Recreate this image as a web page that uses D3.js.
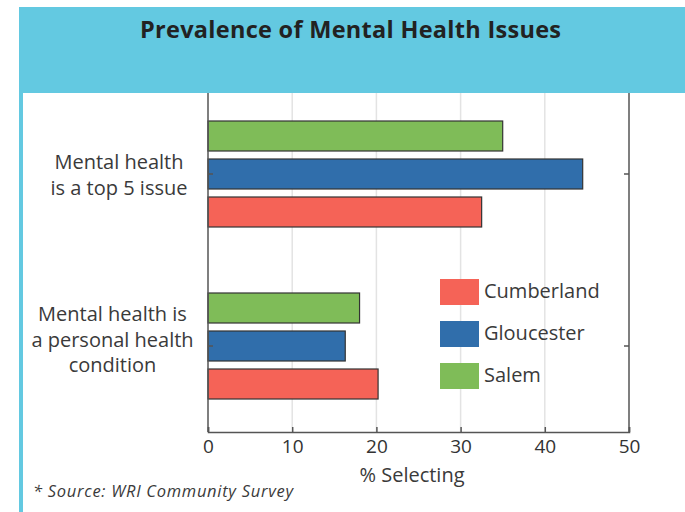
<!DOCTYPE html>
<html><head><meta charset="utf-8">
<script src="https://cdn.jsdelivr.net/npm/d3@7"></script>
<style>body{margin:0;background:#fff;} text{font-family:"Open Sans",Lato,sans-serif;}</style>
</head><body>
<svg id="c" width="685" height="512"></svg>
<script>
const categories = [["Mental health","is a top 5 issue"],["Mental health is","a personal health","condition"]];
const categoryKeys = ["top5","personal"];
const seriesNames = ["Salem","Gloucester","Cumberland"];
const salem = [35, 18];
const gloucester = [44.5, 16.3];
const cumberland = [32.5, 20.2];
const legendOrder = ["Cumberland","Gloucester","Salem"];
const xTicks = [0,10,20,30,40,50];
const colors = {Salem:"#7fbc58", Gloucester:"#306eab", Cumberland:"#f56357"};
const valuesBySeries = {Salem:salem, Gloucester:gloucester, Cumberland:cumberland};

const svg = d3.select("#c");
const L=208, R=629, T=88, B=432;
const x = d3.scaleLinear().domain([0,50]).range([L,R]);
const y = d3.scaleBand().domain(categoryKeys).range([T,B]);
const yi = d3.scaleBand().domain(seriesNames).range([-53,53]).paddingInner(8/38);
const FONT = "'Open Sans',Lato,sans-serif";

// grid
svg.append("g").selectAll("line").data(xTicks.slice(1,-1)).join("line")
  .attr("x1",d=>x(d)).attr("x2",d=>x(d)).attr("y1",T).attr("y2",B)
  .attr("stroke","#e3e3e3").attr("stroke-width",1.5);

// bars
categoryKeys.forEach((k,i)=>{
  const cy = y(k)+y.bandwidth()/2;
  seriesNames.forEach(s=>{
    svg.append("rect").attr("x",x(0)).attr("y",cy+yi(s))
      .attr("width",x(valuesBySeries[s][i])-x(0)).attr("height",yi.bandwidth())
      .attr("fill",colors[s]).attr("stroke","#333").attr("stroke-width",1.2);
  });
});

// frame
svg.append("line").attr("x1",L).attr("x2",L).attr("y1",T).attr("y2",B).attr("stroke","#555").attr("stroke-width",1.5);
svg.append("line").attr("x1",R).attr("x2",R).attr("y1",T).attr("y2",B).attr("stroke","#555").attr("stroke-width",1.5);
// bottom axis
const xa = svg.append("g").attr("transform",`translate(0,${B})`)
  .call(d3.axisBottom(x).tickValues(xTicks).tickSize(-5).tickPadding(8));
xa.select(".domain").attr("stroke","#555").attr("stroke-width",1.5);
xa.selectAll(".tick line").attr("stroke","#555").attr("stroke-width",1.5);
xa.selectAll("text").attr("font-size",19).attr("fill","#333").attr("font-family",FONT);
// y ticks inward
categoryKeys.forEach(k=>{
  const cy=y(k)+y.bandwidth()/2;
  svg.append("line").attr("x1",L).attr("x2",L+5).attr("y1",cy).attr("y2",cy).attr("stroke","#555").attr("stroke-width",1.5);
  svg.append("line").attr("x1",R-5).attr("x2",R).attr("y1",cy).attr("y2",cy).attr("stroke","#555").attr("stroke-width",1.5);
});

// category labels
const labelX=[119,112.5];
const firstBaseline=[-5,-25];
categories.forEach((lines,i)=>{
  const cy=y(categoryKeys[i])+y.bandwidth()/2;
  const lh=25.5;
  const t=svg.append("text").attr("text-anchor","middle").attr("font-size",20).attr("fill","#3a3a3a");
  lines.forEach((ln,j)=>{
    t.append("tspan").attr("x",labelX[i]).attr("y",cy+firstBaseline[i]+j*lh).text(ln);
  });
});

// legend
legendOrder.forEach((s,i)=>{
  const ly=279+i*42;
  svg.append("rect").attr("x",440).attr("y",ly).attr("width",39).attr("height",26).attr("fill",colors[s]);
  svg.append("text").attr("x",484).attr("y",ly+19).attr("font-size",20).attr("fill","#3a3a3a").text(s);
});

// header
svg.append("rect").attr("x",19).attr("y",7).attr("width",700).attr("height",86).attr("fill","#63c9e1");
svg.append("rect").attr("x",19).attr("y",7).attr("width",4).attr("height",520).attr("fill","#63c9e1");
svg.append("text").attr("x",140).attr("y",38).attr("font-size",23.5)
  .attr("font-weight","bold").attr("fill","#222").attr("textLength",421).attr("lengthAdjust","spacing")
  .text("Prevalence of Mental Health Issues");

// axis title & source
svg.append("text").attr("x",412).attr("y",482).attr("text-anchor","middle").attr("font-size",20).attr("fill","#3a3a3a").text("% Selecting");
svg.append("text").attr("x",33).attr("y",497).attr("font-size",16.5).attr("font-style","italic").attr("fill","#3a3a3a")
  .attr("textLength",260).attr("lengthAdjust","spacing").text("* Source: WRI Community Survey");
</script>
</body></html>
